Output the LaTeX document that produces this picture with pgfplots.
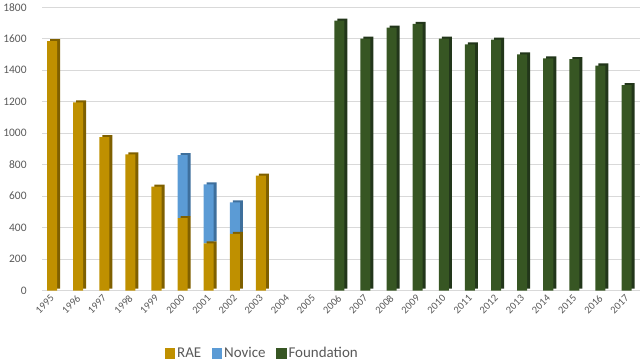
\documentclass[border=0pt]{standalone}
\usepackage{fontspec}
\setmainfont{Carlito}
\usepackage{pgfplots}
\usepackage{pgfplotstable}
\pgfplotsset{compat=1.18}
\definecolor{rae}{HTML}{BF9000}
\definecolor{raed}{HTML}{7F6000}
\definecolor{nov}{HTML}{5B9BD5}
\definecolor{novd}{HTML}{3E6F9C}
\definecolor{fnd}{HTML}{375623}
\definecolor{fndd}{HTML}{22361A}
\definecolor{tick}{HTML}{595959}
\pgfplotstableread{
x rae nov fnd
0 1585 0 0
1 1195 0 0
2 975 0 0
3 865 0 0
4 660 0 0
5 460 400 0
6 300 375 0
7 360 200 0
8 730 0 0
9 0 0 0
10 0 0 0
11 0 0 1715
12 0 0 1600
13 0 0 1670
14 0 0 1695
15 0 0 1600
16 0 0 1565
17 0 0 1595
18 0 0 1500
19 0 0 1475
20 0 0 1470
21 0 0 1430
22 0 0 1305
}\datatable
\begin{document}
\begin{tikzpicture}
\begin{axis}[
  scale only axis, width=597bp, height=283bp,
  ybar stacked, bar width=10bp,
  xmin=-0.38, xmax=22.5, ymin=0, ymax=1800,
  ytick={0,200,...,1800},
  xtick={0,...,22},
  xticklabels={1995,1996,1997,1998,1999,2000,2001,2002,2003,2004,2005,2006,2007,2008,2009,2010,2011,2012,2013,2014,2015,2016,2017},
  x tick label style={rotate=45, anchor=north east, font=\fontsize{10.5}{11}\selectfont, text=tick, inner sep=1pt, xshift=-3bp},
  y tick label style={font=\fontsize{11.5}{12}\selectfont, text=tick, xshift=-12bp},
  /pgf/number format/assume math mode=true,
  /pgf/number format/1000 sep={},
  axis line style={draw=none},
  major tick length=0pt,
  ymajorgrids, grid style={draw=black!15, line width=0.7pt},
  legend style={at={(0.205,-0.19)}, anchor=north west, legend columns=-1, draw=none,
    font=\fontsize{15}{16}\selectfont, text=tick, inner sep=0pt,
    nodes={inner sep=2.5bp},
    /tikz/every even column/.append style={column sep=8bp}},
]
\addlegendimage{legend image code/.code={\fill[rae] (0bp,-5bp) rectangle (9.5bp,4.5bp);}}
\addlegendentry{RAE}
\addlegendimage{legend image code/.code={\fill[nov] (0bp,-5bp) rectangle (9.5bp,4.5bp);}}
\addlegendentry{Novice}
\addlegendimage{legend image code/.code={\fill[fnd] (0bp,-5bp) rectangle (9.5bp,4.5bp);}}
\addlegendentry{Foundation}
\addplot[forget plot, fill=rae, draw=none, preaction={fill=raed, transform canvas={xshift=3bp, yshift=2bp}}] table[x=x, y=rae] {\datatable};
\addplot[forget plot, fill=nov, draw=none, preaction={fill=novd, transform canvas={xshift=3bp, yshift=2bp}}] table[x=x, y=nov] {\datatable};
\addplot[forget plot, fill=fnd, draw=none, preaction={fill=fndd, transform canvas={xshift=3bp, yshift=2bp}}] table[x=x, y=fnd] {\datatable};
\end{axis}
\end{tikzpicture}
\end{document}
